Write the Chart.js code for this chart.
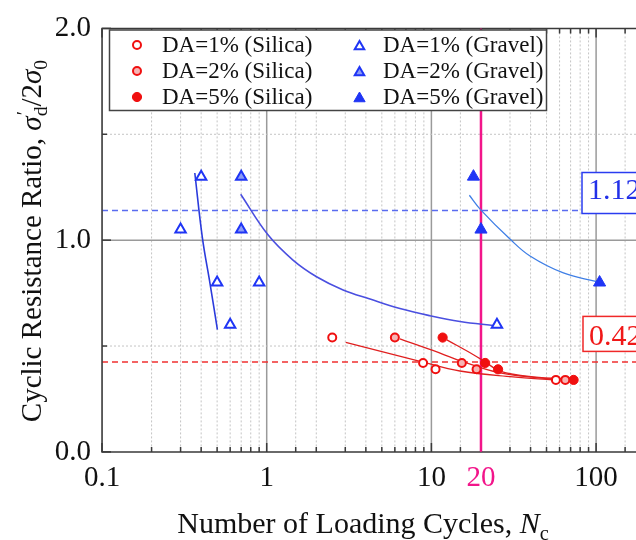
<!DOCTYPE html>
<html><head><meta charset="utf-8">
<script src="https://cdn.jsdelivr.net/npm/chart.js@4/dist/chart.umd.min.js"></script>
<style>html,body{margin:0;padding:0;overflow:hidden;background:#fff;width:636px;height:540px}canvas{display:block}</style>
</head><body>
<canvas id="c" width="780" height="540" style="width:780px;height:540px"></canvas>
<script>
// ---------- data ----------
const silicaDA1_N = [2.5, 8.9, 10.6, 57];
const silicaDA1_CRR = [0.54, 0.42, 0.39, 0.34];
const silicaDA2_N = [6.0, 15.3, 18.8, 65];
const silicaDA2_CRR = [0.54, 0.42, 0.39, 0.34];
const silicaDA5_N = [11.7, 21.2, 25.4, 73];
const silicaDA5_CRR = [0.54, 0.42, 0.39, 0.34];

const gravelDA1_N = [0.40, 0.30, 0.50, 0.60];
const gravelDA1_CRR = [1.30, 1.05, 0.80, 0.60];
const gravelDA2_N = [0.70, 0.70, 0.90, 25];
const gravelDA2_CRR = [1.30, 1.05, 0.80, 0.60];
const gravelDA5_N = [18, 20, 105];
const gravelDA5_CRR = [1.30, 1.05, 0.80];

// fitted trend curves
const fitSilicaDA1_N = [3.02, 8.53, 14.9, 31.3, 54.7];
const fitSilicaDA1_CRR = [0.517, 0.428, 0.382, 0.354, 0.340];
const fitSilicaDA2_N = [6.44, 10.2, 15.3, 26.1, 55.0];
const fitSilicaDA2_CRR = [0.534, 0.479, 0.428, 0.373, 0.343];
const fitSilicaDA5_N = [12.4, 18.0, 21.2, 26.1, 41.6, 72.7];
const fitSilicaDA5_CRR = [0.529, 0.459, 0.425, 0.382, 0.354, 0.343];
const fitGravelDA1_N = [0.366, 0.407, 0.453, 0.502];
const fitGravelDA1_CRR = [1.317, 1.011, 0.794, 0.577];
const fitGravelDA2_N = [0.695, 1.018, 1.444, 2.02, 2.91, 4.24, 6.44, 9.81, 14.9, 24.3];
const fitGravelDA2_CRR = [1.217, 1.025, 0.906, 0.826, 0.765, 0.722, 0.677, 0.643, 0.616, 0.596];
const fitGravelDA5_N = [17.0, 20.0, 30.0, 39.7, 63.3, 101];
const fitGravelDA5_CRR = [1.212, 1.142, 1.005, 0.925, 0.845, 0.804];

// reference lines
const refN = [0.1, 1000];
const refGravelCRR = 1.14;
const refSilicaCRR = 0.425;
const refGravelLabel = "1.12";
const refSilicaLabel = "0.42";
const designCycles = 20;
const crrRange = [0, 2];

// axis tick labels
const xTickLabels = [0.1, 1, 10, 20, 100];
const yTickLabels = [0, 1, 2];

const legendLabels = ["DA=1% (Silica)", "DA=2% (Silica)", "DA=5% (Silica)",
                      "DA=1% (Gravel)", "DA=2% (Gravel)", "DA=5% (Gravel)"];

// ---------- styles ----------
const RED = '#f01010', BLUE = '#1f35f5', PINK = '#f2158a';
const FONT = "'Liberation Serif', 'Times New Roman', serif";
const pts = (xs, ys) => xs.map((x, i) => ({x, y: ys[i]}));

const markerSets = [
  {label: legendLabels[0], data: pts(silicaDA1_N, silicaDA1_CRR), pointStyle: 'circle', pointRadius: 4, pointBorderWidth: 2, pointBorderColor: RED, pointBackgroundColor: '#ffffff'},
  {label: legendLabels[1], data: pts(silicaDA2_N, silicaDA2_CRR), pointStyle: 'circle', pointRadius: 4, pointBorderWidth: 2, pointBorderColor: RED, pointBackgroundColor: '#f6b4b4'},
  {label: legendLabels[2], data: pts(silicaDA5_N, silicaDA5_CRR), pointStyle: 'circle', pointRadius: 4.6, pointBorderWidth: 1, pointBorderColor: RED, pointBackgroundColor: RED},
  {label: legendLabels[3], data: pts(gravelDA1_N, gravelDA1_CRR), pointStyle: 'triangle', pointRadius: 6, pointBorderWidth: 2, pointBorderColor: BLUE, pointBackgroundColor: '#ffffff'},
  {label: legendLabels[4], data: pts(gravelDA2_N, gravelDA2_CRR), pointStyle: 'triangle', pointRadius: 6, pointBorderWidth: 2, pointBorderColor: BLUE, pointBackgroundColor: ['#8d9cf5', '#8d9cf5', '#ffffff', '#ffffff']},
  {label: legendLabels[5], data: pts(gravelDA5_N, gravelDA5_CRR), pointStyle: 'triangle', pointRadius: 7, pointBorderWidth: 1, pointBorderColor: BLUE, pointBackgroundColor: BLUE},
].map(d => Object.assign({showLine: false}, d));

const curve = (xs, ys, color, w) => ({data: pts(xs, ys), showLine: true, borderColor: color, borderWidth: w || 1.3, pointRadius: 0, tension: 0.4, fill: false});

const lineSets = [
  curve(fitSilicaDA1_N, fitSilicaDA1_CRR, '#e02020'),
  curve(fitSilicaDA2_N, fitSilicaDA2_CRR, '#e02020'),
  curve(fitSilicaDA5_N, fitSilicaDA5_CRR, '#e02020'),
  curve(fitGravelDA1_N, fitGravelDA1_CRR, '#2b3bdc', 1.6),
  curve(fitGravelDA2_N, fitGravelDA2_CRR, '#4a4fe0', 1.6),
  curve(fitGravelDA5_N, fitGravelDA5_CRR, '#3f7fe6', 1.3),
  {data: pts(refN, [refGravelCRR, refGravelCRR]), showLine: true, borderColor: '#5a6cf0', borderWidth: 1.5, borderDash: [6, 4], pointRadius: 0},
  {data: pts(refN, [refSilicaCRR, refSilicaCRR]), showLine: true, borderColor: '#f03030', borderWidth: 1.5, borderDash: [6, 4], pointRadius: 0},
  {data: pts([designCycles, designCycles], crrRange), showLine: true, borderColor: PINK, borderWidth: 2.5, pointRadius: 0},
];

// ---------- helpers ----------
function richWidth(ctx, parts, size) {
  let w = 0;
  for (const p of parts) {
    const s = p.small ? size * 0.68 : size;
    ctx.font = (p.it ? 'italic ' : '') + s + 'px ' + FONT;
    let pw = ctx.measureText(p.t).width;
    if (p.sup) { ctx.font = s + 'px ' + FONT; pw = Math.max(pw, ctx.measureText(p.sup).width); }
    w += pw;
  }
  return w;
}
function drawRich(ctx, parts, size, x, y) {
  ctx.textBaseline = 'alphabetic'; ctx.textAlign = 'left';
  for (const p of parts) {
    const s = p.small ? size * 0.68 : size;
    ctx.font = (p.it ? 'italic ' : '') + s + 'px ' + FONT;
    const dy = p.small ? size * 0.22 : 0;
    let pw = ctx.measureText(p.t).width;
    ctx.fillText(p.t, x, y + dy);
    if (p.sup) {
      ctx.font = s + 'px ' + FONT;
      ctx.fillText(p.sup, x + 1, y - size * 0.38);
      pw = Math.max(pw, ctx.measureText(p.sup).width);
    }
    x += pw;
  }
}
function marker(ctx, style, x, y, r, fill, stroke, bw) {
  ctx.beginPath();
  if (style === 'circle') ctx.arc(x, y, r, 0, Math.PI * 2);
  else { ctx.moveTo(x, y - r); ctx.lineTo(x + 0.866 * r, y + 0.5 * r); ctx.lineTo(x - 0.866 * r, y + 0.5 * r); ctx.closePath(); }
  ctx.fillStyle = fill; ctx.fill();
  ctx.lineWidth = bw; ctx.strokeStyle = stroke; ctx.stroke();
}

const deco = {
  id: 'deco',
  beforeDatasetsDraw(chart) {
    const {ctx, chartArea: a, scales: {x, y}} = chart;
    ctx.save();
    ctx.beginPath(); ctx.rect(a.left, a.top, a.right - a.left, a.bottom - a.top); ctx.clip();
    x.ticks.forEach(t => {
      const px = x.getPixelForValue(t.value);
      const mant = t.value / Math.pow(10, Math.floor(Math.log10(t.value) + 1e-9));
      const major = Math.abs(mant - 1) < 1e-6;
      ctx.beginPath(); ctx.moveTo(px, a.top); ctx.lineTo(px, a.bottom);
      if (major) { ctx.setLineDash([]); ctx.strokeStyle = '#9a9a9a'; ctx.lineWidth = 1.5; }
      else { ctx.setLineDash([2, 2]); ctx.strokeStyle = '#c4c4c4'; ctx.lineWidth = 1; }
      ctx.stroke();
    });
    [0.5, 1.0, 1.5].forEach(v => {
      const py = y.getPixelForValue(v);
      ctx.beginPath(); ctx.moveTo(a.left, py); ctx.lineTo(a.right, py);
      if (v === 1.0) { ctx.setLineDash([]); ctx.strokeStyle = '#9a9a9a'; ctx.lineWidth = 1.5; }
      else { ctx.setLineDash([2, 2]); ctx.strokeStyle = '#c4c4c4'; ctx.lineWidth = 1; }
      ctx.stroke();
    });
    ctx.restore();
  },
  afterDatasetsDraw(chart) {
    const {ctx, chartArea: a, scales: {x, y}} = chart;
    ctx.save();
    // label boxes
    const by = y.getPixelForValue(refGravelCRR);
    ctx.fillStyle = '#fff'; ctx.fillRect(582, by - 38, 120, 41);
    ctx.strokeStyle = '#2a3cf0'; ctx.lineWidth = 1.5; ctx.strokeRect(582, by - 38, 120, 41);
    ctx.fillStyle = '#2230e8'; ctx.font = '30px ' + FONT; ctx.textBaseline = 'middle'; ctx.textAlign = 'left';
    ctx.fillText(refGravelLabel, 588, by - 19);
    const ry = y.getPixelForValue(refSilicaCRR);
    ctx.fillStyle = '#fff'; ctx.fillRect(583, ry - 45.5, 120, 35);
    ctx.strokeStyle = '#f02828'; ctx.strokeRect(583, ry - 45.5, 120, 35);
    ctx.fillStyle = '#f01818'; ctx.fillText(refSilicaLabel, 589, ry - 25);

    // frame + inside ticks
    ctx.strokeStyle = '#3a3a3a'; ctx.lineWidth = 1.5; ctx.setLineDash([]);
    ctx.beginPath();
    ctx.moveTo(a.right, a.top); ctx.lineTo(a.left, a.top); ctx.lineTo(a.left, a.bottom); ctx.lineTo(a.right, a.bottom);
    ctx.stroke();
    x.ticks.forEach(t => {
      const px = x.getPixelForValue(t.value);
      const mant = t.value / Math.pow(10, Math.floor(Math.log10(t.value) + 1e-9));
      const major = Math.abs(mant - 1) < 1e-6;
      const len = major ? 9 : 5;
      ctx.strokeStyle = Math.abs(t.value - designCycles) < 1e-6 ? PINK : '#3a3a3a';
      ctx.beginPath();
      ctx.moveTo(px, a.bottom); ctx.lineTo(px, a.bottom - len);
      ctx.moveTo(px, a.top); ctx.lineTo(px, a.top + len);
      ctx.stroke();
    });
    ctx.strokeStyle = '#3a3a3a';
    [0, 0.5, 1, 1.5, 2].forEach(v => {
      const py = y.getPixelForValue(v);
      const len = (v % 1 === 0) ? 9 : 5;
      ctx.beginPath(); ctx.moveTo(a.left, py); ctx.lineTo(a.left + len, py); ctx.stroke();
    });

    // legend
    ctx.fillStyle = '#fff'; ctx.fillRect(109.5, 30, 437, 80.5);
    ctx.strokeStyle = '#444'; ctx.lineWidth = 1.5; ctx.strokeRect(109.5, 30, 437, 80.5);
    const rows = [45, 71, 97];
    ctx.textBaseline = 'middle'; ctx.textAlign = 'left';
    markerSets.forEach((d, i) => {
      const col = i < 3 ? 0 : 1, row = i % 3;
      const mx = col ? 359.5 : 137, tx = col ? 383 : 162;
      const fill = Array.isArray(d.pointBackgroundColor) ? d.pointBackgroundColor[0] : d.pointBackgroundColor;
      const r = d.pointStyle === 'circle' ? d.pointRadius : d.pointRadius - 0.5;
      marker(ctx, d.pointStyle, mx, rows[row] + (d.pointStyle === 'triangle' ? 1.5 : 0), r, fill, d.pointBorderColor, d.pointBorderWidth);
      ctx.fillStyle = '#111'; ctx.font = '23px ' + FONT;
      ctx.fillText(d.label, tx, rows[row] + 1);
    });

    // axis titles
    ctx.fillStyle = '#111';
    const xt = [{t: 'Number of Loading Cycles, '}, {t: 'N', it: true}, {t: 'c', small: true}];
    const xs = 30;
    drawRich(ctx, xt, xs, 363 - richWidth(ctx, xt, xs) / 2, 533);
    const yt = [{t: 'Cyclic Resistance Ratio, '}, {t: 'σ', it: true}, {t: 'd', small: true, sup: '\u2032'}, {t: '/2'}, {t: 'σ', it: true}, {t: '0', small: true}];
    const ys = 29;
    ctx.translate(41, 241); ctx.rotate(-Math.PI / 2);
    drawRich(ctx, yt, ys, -richWidth(ctx, yt, ys) / 2, 0);
    ctx.restore();
  }
};

const near = (v, arr) => arr.some(t => Math.abs(v - t) < 1e-6 * Math.max(1, t));

new Chart(document.getElementById('c'), {
  type: 'scatter',
  data: {datasets: [...markerSets, ...lineSets]},
  options: {
    responsive: false, animation: false, events: [],
    layout: {padding: {top: 22.7, right: 19.2, left: 0, bottom: 0}},
    plugins: {legend: {display: false}, tooltip: {enabled: false}},
    scales: {
      x: {
        type: 'logarithmic', min: 0.1, max: 1000,
        grid: {display: false, drawTicks: false}, border: {display: false},
        ticks: {
          autoSkip: false, maxRotation: 0, minRotation: 0, padding: 9,
          font: {family: FONT, size: 29},
          color: c => (c.tick && Math.abs(c.tick.value - designCycles) < 1e-6) ? PINK : '#111',
          callback: v => near(v, xTickLabels) ? String(v) : ''
        },
        afterFit: s => { s.height = 88.1; }
      },
      y: {
        min: crrRange[0], max: crrRange[1],
        grid: {display: false, drawTicks: false}, border: {display: false},
        ticks: {
          stepSize: 1, padding: 11, font: {family: FONT, size: 29}, color: '#111',
          callback: v => near(v, yTickLabels) ? v.toFixed(1) : ''
        },
        afterFit: s => { s.width = 102; }
      }
    }
  },
  plugins: [deco]
});
</script>
</body></html>
